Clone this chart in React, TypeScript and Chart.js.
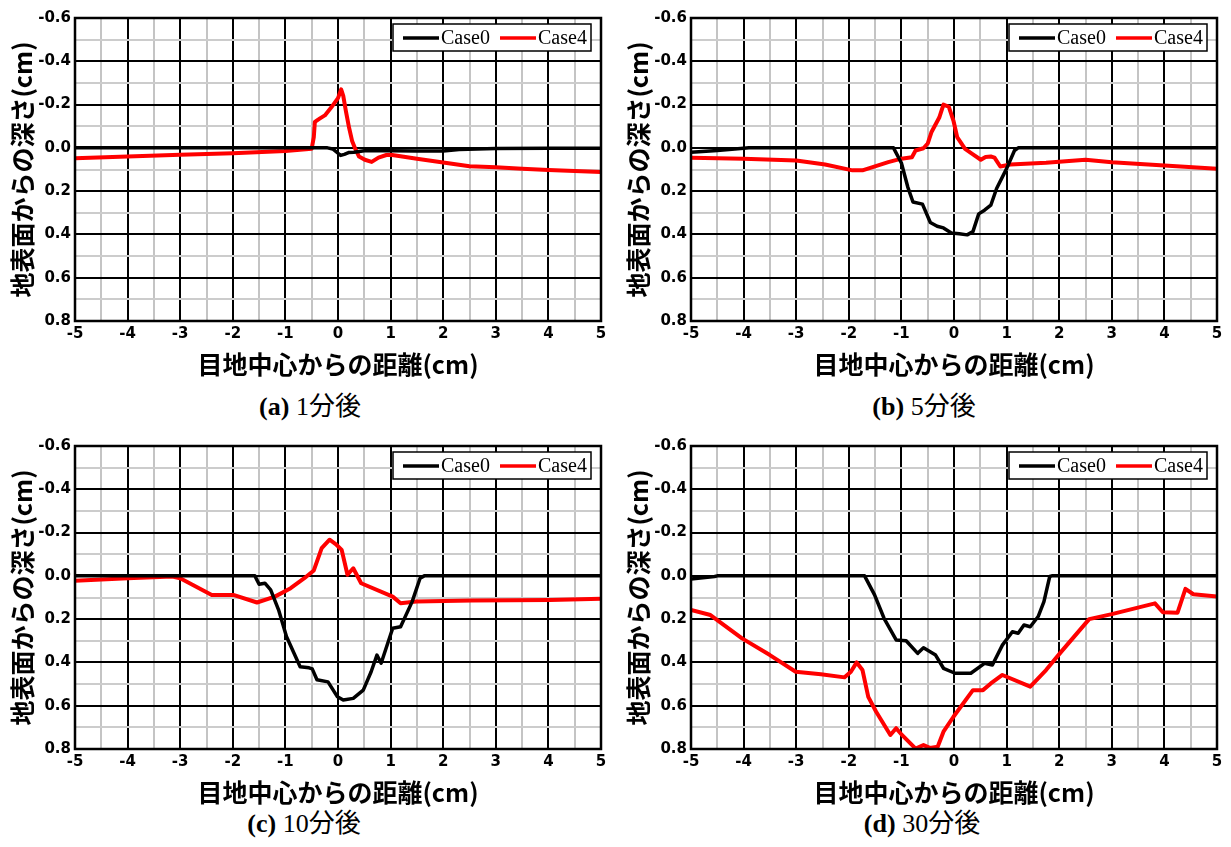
import React, { useEffect, useRef } from "react";
import { Chart, registerables } from "chart.js";

Chart.register(...registerables);

type Pt = [number, number];

// ---------- data (x: distance from joint centre [cm], y: depth from surface [cm]) ----------
const seriesLabels = ["Case0", "Case4"];
const seriesColors = ["#000000", "#ff0000"];

const captionLetters = ["(a)", "(b)", "(c)", "(d)"];
const captionTimes = ["1分後", "5分後", "10分後", "30分後"];

const xTitle = "目地中心からの距離(cm)";
const yTitle = "地表面からの深さ(cm)";

const xMin = -5;
const xMax = 5;
const xStep = 0.5;
const yMin = -0.6;
const yMax = 0.8;
const yStep = 0.1;

const a_case0: Pt[] = [
  [-5, 0], [-1, 0], [-0.5, 0], [-0.2, 0.0], [-0.1, 0.005], [0, 0.025], [0.05, 0.035],
  [0.12, 0.03], [0.2, 0.022], [0.3, 0.02], [0.5, 0.013], [1, 0.013], [1.5, 0.015],
  [2, 0.015], [2.3, 0.008], [3, 0.003], [4, 0.002], [5, 0.002],
];
const a_case4: Pt[] = [
  [-5, 0.048], [-4, 0.04], [-3, 0.032], [-2, 0.025], [-1, 0.014], [-0.5, 0.004],
  [-0.46, -0.05], [-0.44, -0.12], [-0.35, -0.135], [-0.25, -0.15], [-0.13, -0.186],
  [0, -0.23], [0.06, -0.27], [0.1, -0.24], [0.15, -0.17], [0.21, -0.094], [0.27, -0.03],
  [0.32, 0.0], [0.4, 0.04], [0.51, 0.055], [0.64, 0.065], [0.77, 0.045], [0.92, 0.033],
  [1.0, 0.032], [1.5, 0.05], [2, 0.068], [2.5, 0.085], [3, 0.09], [3.5, 0.096],
  [4, 0.102], [4.5, 0.107], [5, 0.112],
];

const b_case0: Pt[] = [
  [-5, 0.02], [-4.5, 0.012], [-4, 0.002], [-3.9, 0], [-1.15, 0], [-1.0, 0.07],
  [-0.88, 0.18], [-0.78, 0.25], [-0.6, 0.26], [-0.45, 0.345], [-0.32, 0.362],
  [-0.2, 0.37], [-0.05, 0.393], [0.1, 0.397], [0.25, 0.402], [0.36, 0.387],
  [0.47, 0.305], [0.58, 0.288], [0.7, 0.265], [0.81, 0.188], [1.0, 0.096],
  [1.15, 0.012], [1.22, 0], [5, 0],
];
const b_case4: Pt[] = [
  [-5, 0.046], [-4, 0.05], [-3, 0.058], [-2.45, 0.077], [-1.93, 0.104], [-1.74, 0.104],
  [-1.25, 0.066], [-1, 0.05], [-0.8, 0.043], [-0.73, 0.012], [-0.58, 0.002], [-0.5, -0.02],
  [-0.43, -0.072], [-0.28, -0.14], [-0.2, -0.2], [-0.1, -0.19], [-0.01, -0.125],
  [0.06, -0.05], [0.21, 0.005], [0.36, 0.03], [0.51, 0.055], [0.6, 0.042], [0.7, 0.04],
  [0.77, 0.045], [0.88, 0.086], [1.07, 0.077], [1.75, 0.069], [2.5, 0.055], [3.0, 0.066],
  [4.0, 0.081], [5, 0.096],
];

const c_case0: Pt[] = [
  [-5, 0], [-1.58, 0], [-1.5, 0.039], [-1.39, 0.034], [-1.28, 0.065], [-1.13, 0.157],
  [-0.98, 0.28], [-0.72, 0.42], [-0.55, 0.425], [-0.49, 0.43], [-0.4, 0.48], [-0.19, 0.49],
  [-0.01, 0.559], [0.1, 0.574], [0.29, 0.566], [0.48, 0.528], [0.63, 0.443], [0.74, 0.366],
  [0.82, 0.404], [1.04, 0.242], [1.19, 0.235], [1.41, 0.119], [1.56, 0.011], [1.64, 0],
  [5, 0],
];
const c_case4: Pt[] = [
  [-5, 0.023], [-4, 0.011], [-3.15, 0.003], [-3, 0.011], [-2.4, 0.088], [-1.99, 0.088],
  [-1.54, 0.123], [-1.2, 0.096], [-0.9, 0.057], [-0.64, 0.011], [-0.46, -0.025],
  [-0.31, -0.128], [-0.16, -0.167], [-0.045, -0.147], [0.07, -0.12], [0.18, -0.005],
  [0.29, -0.035], [0.44, 0.034], [1.04, 0.096], [1.19, 0.127], [1.49, 0.119],
  [2.54, 0.114], [4.03, 0.111], [5, 0.106],
];

const d_case0: Pt[] = [
  [-5, 0.014], [-4.55, 0.003], [-4.5, 0], [-1.7, 0], [-1.51, 0.088], [-1.33, 0.196],
  [-1.1, 0.296], [-0.91, 0.3], [-0.69, 0.358], [-0.58, 0.332], [-0.35, 0.366],
  [-0.2, 0.427], [0.02, 0.45], [0.32, 0.45], [0.58, 0.404], [0.73, 0.412], [0.92, 0.32],
  [1.11, 0.258], [1.22, 0.265], [1.33, 0.227], [1.45, 0.235], [1.6, 0.188], [1.71, 0.119],
  [1.82, 0.003], [1.86, 0], [5, 0],
];
const d_case4: Pt[] = [
  [-5, 0.157], [-4.63, 0.181], [-4.03, 0.289], [-3.5, 0.366], [-3.01, 0.443],
  [-2.53, 0.455], [-2.08, 0.469], [-1.96, 0.443], [-1.85, 0.4], [-1.74, 0.435],
  [-1.63, 0.559], [-1.48, 0.628], [-1.21, 0.735], [-1.1, 0.704], [-0.99, 0.735],
  [-0.73, 0.798], [-0.58, 0.782], [-0.46, 0.795], [-0.31, 0.79], [-0.2, 0.72],
  [-0.01, 0.651], [0.36, 0.528], [0.55, 0.528], [0.7, 0.497], [0.92, 0.458],
  [1.45, 0.512], [1.75, 0.435], [2.04, 0.35], [2.57, 0.2], [3.0, 0.177], [3.82, 0.127],
  [3.97, 0.168], [4.25, 0.17], [4.4, 0.06], [4.55, 0.085], [5, 0.096],
];

const panelSeries: Pt[][][] = [
  [a_case0, a_case4],
  [b_case0, b_case4],
  [c_case0, c_case4],
  [d_case0, d_case4],
];

// ---------- layout ----------
const CANVAS_W = 615;
const CANVAS_H = 380;
const panelPos = [
  { left: 0, top: 0 },
  { left: 616, top: 0 },
  { left: 0, top: 428 },
  { left: 616, top: 428 },
];
const captionPos = [
  { cx: 310, cy: 407 },
  { cx: 924, cy: 407 },
  { cx: 304, cy: 824 },
  { cx: 922, cy: 824 },
];

const tickFont = { family: '"DejaVu Sans", sans-serif', size: 15, weight: "bold" as const };
const titleFont = { family: '"Noto Sans CJK JP", sans-serif', size: 25, weight: "bold" as const };

const framePlugin = {
  id: "frame",
  afterDatasetsDraw(chart: any) {
    const { ctx, chartArea: a } = chart;
    ctx.save();
    ctx.strokeStyle = "#000";
    ctx.lineWidth = 2.5;
    ctx.strokeRect(a.left, a.top, a.right - a.left, a.bottom - a.top);
    ctx.restore();
  },
};

const boxLegendPlugin = {
  id: "boxLegend",
  afterDraw(chart: any) {
    const { ctx, chartArea: a } = chart;
    const bw = 198;
    const bh = 27;
    const bx = a.right - 10 - bw;
    const by = a.top + 6;
    ctx.save();
    ctx.fillStyle = "#fff";
    ctx.fillRect(bx, by, bw, bh);
    ctx.strokeStyle = "#000";
    ctx.lineWidth = 1.5;
    ctx.strokeRect(bx, by, bw, bh);
    const offsets = [10, 107];
    chart.data.datasets.forEach((ds: any, i: number) => {
      const x0 = bx + offsets[i];
      const cy = by + 14;
      ctx.strokeStyle = ds.borderColor;
      ctx.lineWidth = 3.5;
      ctx.beginPath();
      ctx.moveTo(x0, cy);
      ctx.lineTo(x0 + 36, cy);
      ctx.stroke();
      ctx.fillStyle = "#000";
      ctx.font = '20px "Liberation Serif", serif';
      ctx.textBaseline = "middle";
      ctx.textAlign = "left";
      ctx.fillText(ds.label, x0 + 38, cy + 1);
    });
    ctx.restore();
  },
};

function Panel({ index }: { index: number }) {
  const ref = useRef<HTMLCanvasElement | null>(null);
  useEffect(() => {
    if (!ref.current) return;
    const series = panelSeries[index];
    const chart = new Chart(ref.current, {
      type: "line",
      data: {
        datasets: series.map((pts, i) => ({
          label: seriesLabels[i],
          data: pts.map(([x, y]) => ({ x, y })),
          borderColor: seriesColors[i],
          backgroundColor: seriesColors[i],
          borderWidth: i === 0 ? 3.5 : 4,
          pointRadius: 0,
          fill: false,
          tension: 0,
          borderJoinStyle: "round" as const,
        })),
      },
      options: {
        responsive: false,
        animation: false,
        events: [],
        layout: { padding: { left: 0, top: 18, right: 14, bottom: 0 } },
        plugins: {
          legend: { display: false },
          tooltip: { enabled: false },
        },
        scales: {
          x: {
            type: "linear",
            min: xMin,
            max: xMax,
            afterFit: (s: any) => {
              s.height = 59;
            },
            border: { display: false },
            grid: {
              drawTicks: false,
              lineWidth: 2,
              color: (c: any) => {
                const r = Math.round(c.tick.value * 2);
                return Math.abs(r) % 2 === 0 ? "#000000" : "#c4c4c4";
              },
            },
            ticks: {
              stepSize: xStep,
              maxTicksLimit: 100,
              autoSkip: false,
              maxRotation: 0,
              minRotation: 0,
              padding: 4,
              color: "#000",
              font: tickFont,
              callback: (v: any) => {
                const r = Math.round(Number(v) * 2);
                return Math.abs(r) % 2 === 0 ? String(r / 2) : "";
              },
            },
            title: {
              display: true,
              text: xTitle,
              color: "#000",
              font: titleFont,
              padding: { top: 0, bottom: 1 },
            },
          },
          y: {
            type: "linear",
            min: yMin,
            max: yMax,
            reverse: true,
            afterFit: (s: any) => {
              s.width = 75;
            },
            border: { display: false },
            grid: {
              drawTicks: false,
              lineWidth: 2,
              color: (c: any) => {
                const r = Math.round(c.tick.value * 10);
                return Math.abs(r) % 2 === 0 ? "#000000" : "#cccccc";
              },
            },
            ticks: {
              stepSize: yStep,
              maxTicksLimit: 100,
              autoSkip: false,
              padding: 4,
              color: "#000",
              font: tickFont,
              callback: (v: any) => {
                const r = Math.round(Number(v) * 10);
                return Math.abs(r) % 2 === 0 ? (r / 10).toFixed(1) : "";
              },
            },
            title: {
              display: true,
              text: yTitle,
              color: "#000",
              font: titleFont,
              padding: { top: 7, bottom: 0 },
            },
          },
        },
      } as any,
      plugins: [framePlugin, boxLegendPlugin],
    });
    return () => chart.destroy();
  }, [index]);

  const p = panelPos[index];
  return (
    <canvas
      ref={ref}
      width={CANVAS_W}
      height={CANVAS_H}
      style={{ position: "absolute", left: p.left, top: p.top, width: CANVAS_W, height: CANVAS_H }}
    />
  );
}

function Caption({ index }: { index: number }) {
  const c = captionPos[index];
  return (
    <div
      style={{
        position: "absolute",
        left: c.cx - 120,
        width: 240,
        top: c.cy - 15,
        height: 30,
        lineHeight: "30px",
        textAlign: "center",
        fontSize: 26,
        fontFamily: '"Liberation Serif", "Noto Sans CJK JP", serif',
        color: "#000",
        whiteSpace: "nowrap",
      }}
    >
      <b>{captionLetters[index]}</b> {captionTimes[index]}
    </div>
  );
}

export default function App() {
  return (
    <div
      style={{
        position: "absolute",
        left: 0,
        top: 0,
        width: 1231,
        height: 847,
        background: "#fff",
        overflow: "hidden",
      }}
    >
      {[0, 1, 2, 3].map((i) => (
        <Panel key={"p" + i} index={i} />
      ))}
      {[0, 1, 2, 3].map((i) => (
        <Caption key={"c" + i} index={i} />
      ))}
    </div>
  );
}
